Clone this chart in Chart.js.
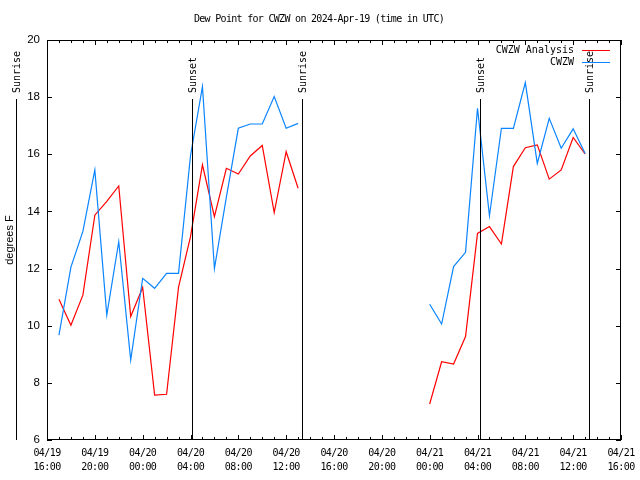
<!DOCTYPE html>
<html>
<head>
<meta charset="utf-8">
<script src="https://cdn.jsdelivr.net/npm/chart.js@4/dist/chart.umd.min.js"></script>
<style>
html,body{margin:0;padding:0;background:#fff;}
#wrap{width:640px;height:480px;}
</style>
</head>
<body>
<div id="wrap"><canvas id="c" width="640" height="480"></canvas></div>
<script>
// ---- data ----
const chartTitle = 'Dew Point for CWZW on 2024-Apr-19 (time in UTC)';
const yLabel = 'degrees F';
const axisStart = '2024-04-19T16:00:00Z';
const axisEnd = '2024-04-21T16:00:00Z';

const times = [
  '2024-04-19T17:00:00Z','2024-04-19T18:00:00Z','2024-04-19T19:00:00Z','2024-04-19T20:00:00Z',
  '2024-04-19T21:00:00Z','2024-04-19T22:00:00Z','2024-04-19T23:00:00Z','2024-04-20T00:00:00Z',
  '2024-04-20T01:00:00Z','2024-04-20T02:00:00Z','2024-04-20T03:00:00Z','2024-04-20T04:00:00Z',
  '2024-04-20T05:00:00Z','2024-04-20T06:00:00Z','2024-04-20T07:00:00Z','2024-04-20T08:00:00Z',
  '2024-04-20T09:00:00Z','2024-04-20T10:00:00Z','2024-04-20T11:00:00Z','2024-04-20T12:00:00Z',
  '2024-04-20T13:00:00Z','2024-04-20T14:00:00Z','2024-04-20T15:00:00Z','2024-04-20T16:00:00Z',
  '2024-04-20T17:00:00Z','2024-04-20T18:00:00Z','2024-04-20T19:00:00Z','2024-04-20T20:00:00Z',
  '2024-04-20T21:00:00Z','2024-04-20T22:00:00Z','2024-04-20T23:00:00Z','2024-04-21T00:00:00Z',
  '2024-04-21T01:00:00Z','2024-04-21T02:00:00Z','2024-04-21T03:00:00Z','2024-04-21T04:00:00Z',
  '2024-04-21T05:00:00Z','2024-04-21T06:00:00Z','2024-04-21T07:00:00Z','2024-04-21T08:00:00Z',
  '2024-04-21T09:00:00Z','2024-04-21T10:00:00Z','2024-04-21T11:00:00Z','2024-04-21T12:00:00Z',
  '2024-04-21T13:00:00Z'
];

const analysisValues = [
  10.93, 10.02, 11.07, 13.87, 14.35, 14.89, 10.32, 11.34, 7.57, 7.60, 11.35, 13.12,
  15.63, 13.82, 15.51, 15.31, 15.94, 16.31, 13.96, 16.09, 14.81,
  null, null, null, null, null, null, null, null, null, null,
  7.26, 8.74, 8.66, 9.62, 13.23, 13.47, 12.86, 15.57, 16.23, 16.33, 15.13, 15.45, 16.59, 16.01
];

const stationValues = [
  9.67, 12.05, 13.30, 15.45, 10.37, 12.94, 8.80, 11.66, 11.31, 11.83, 11.83, 15.95,
  18.37, 12.00, 14.50, 16.91, 17.06, 17.06, 18.02, 16.91, 17.08,
  null, null, null, null, null, null, null, null, null, null,
  10.75, 10.06, 12.07, 12.57, 17.61, 13.85, 16.91, 16.91, 18.51, 15.68, 17.26, 16.21, 16.89, 16.03
];

const sunEvents = [
  {t: '2024-04-19T13:23:00Z', label: 'Sunrise'},
  {t: '2024-04-20T04:09:00Z', label: 'Sunset'},
  {t: '2024-04-20T13:21:00Z', label: 'Sunrise'},
  {t: '2024-04-21T04:14:00Z', label: 'Sunset'},
  {t: '2024-04-21T13:21:00Z', label: 'Sunrise'}
];

const seriesNames = ['CWZW Analysis', 'CWZW'];
const seriesColors = ['#ff0000', '#0a84ff'];
const yTicks = [6, 8, 10, 12, 14, 16, 18, 20];

// ---- helpers ----
const t0 = Date.parse(axisStart);
const hoursOf = s => (Date.parse(s) - t0) / 3600000;
const xMax = hoursOf(axisEnd);
const pad2 = n => String(n).padStart(2, '0');
function tickLabel(h) {
  const d = new Date(t0 + h * 3600000);
  return [pad2(d.getUTCMonth() + 1) + '/' + pad2(d.getUTCDate()), pad2(d.getUTCHours()) + ':00'];
}
const toPoints = vals => times.map((t, i) => ({x: hoursOf(t), y: vals[i]}));

const MONO = '"DejaVu Sans Mono", "Liberation Mono", monospace';
const SANS = '"Liberation Sans", "DejaVu Sans", sans-serif';
const MONO_FONT = '10px ' + MONO;

const decor = {
  id: 'decor',
  afterDatasetsDraw(chart) {
    const ctx = chart.ctx;
    const a = chart.chartArea;
    const xs = chart.scales.x, ys = chart.scales.y;
    ctx.save();
    ctx.strokeStyle = '#000';
    ctx.lineWidth = 1;
    // frame
    ctx.strokeRect(Math.round(a.left) + 0.5, Math.round(a.top) + 0.5,
                   Math.round(a.right - a.left) - 1, Math.round(a.bottom - a.top) - 1);
    ctx.beginPath();
    for (let h = 0; h <= xMax; h++) {
      const px = Math.round(xs.getPixelForValue(h)) + 0.5;
      const len = h % 4 === 0 ? 5 : 3;
      ctx.moveTo(px, a.bottom); ctx.lineTo(px, a.bottom - len);
      ctx.moveTo(px, a.top); ctx.lineTo(px, a.top + len);
    }
    yTicks.forEach(v => {
      const py = Math.round(ys.getPixelForValue(v)) + 0.5;
      ctx.moveTo(a.left, py); ctx.lineTo(a.left + 5, py);
      ctx.moveTo(a.right, py); ctx.lineTo(a.right - 5, py);
    });
    ctx.stroke();

    ctx.fillStyle = '#000';
    ctx.font = MONO_FONT;

    // x tick labels (two lines)
    ctx.letterSpacing = '-0.6px';
    ctx.textAlign = 'center';
    ctx.textBaseline = 'middle';
    for (let h = 0; h <= xMax; h += 4) {
      const px = xs.getPixelForValue(h);
      const lab = tickLabel(h);
      ctx.fillText(lab[0], px, a.bottom + 13);
      ctx.fillText(lab[1], px, a.bottom + 27);
    }

    // title
    ctx.letterSpacing = '-0.7px';
    ctx.fillText(chartTitle, 319, 19);

    // sun events
    ctx.letterSpacing = '0px';
    sunEvents.forEach(ev => {
      const px = Math.round(xs.getPixelForValue(hoursOf(ev.t))) + 0.5;
      ctx.beginPath();
      ctx.moveTo(px, a.bottom);
      ctx.lineTo(px, 99);
      ctx.stroke();
      ctx.save();
      ctx.translate(px + 1, 93);
      ctx.rotate(-Math.PI / 2);
      ctx.textAlign = 'left';
      ctx.textBaseline = 'middle';
      ctx.fillText(ev.label, 0, 0);
      ctx.restore();
    });

    // legend
    ctx.textAlign = 'right';
    ctx.textBaseline = 'middle';
    seriesNames.forEach((n, i) => {
      const y = 50 + i * 12;
      ctx.fillStyle = '#000';
      ctx.fillText(n, 574, y);
      ctx.strokeStyle = seriesColors[i];
      ctx.beginPath();
      ctx.moveTo(582, y + 0.5);
      ctx.lineTo(610, y + 0.5);
      ctx.stroke();
    });

    // y label
    ctx.save();
    ctx.font = '11px ' + SANS;
    ctx.translate(10, 240);
    ctx.rotate(-Math.PI / 2);
    ctx.textAlign = 'center';
    ctx.textBaseline = 'middle';
    ctx.fillStyle = '#000';
    ctx.fillText(yLabel, 0, 0);
    ctx.restore();
    ctx.restore();
  }
};

new Chart(document.getElementById('c'), {
  type: 'line',
  data: {
    datasets: [
      {label: seriesNames[1], data: toPoints(stationValues), borderColor: seriesColors[1],
       borderWidth: 1.2, pointRadius: 0, tension: 0, spanGaps: false, fill: false},
      {label: seriesNames[0], data: toPoints(analysisValues), borderColor: seriesColors[0],
       borderWidth: 1.2, pointRadius: 0, tension: 0, spanGaps: false, fill: false}
    ]
  },
  options: {
    responsive: false,
    animation: false,
    devicePixelRatio: 1,
    layout: {padding: {top: 40, right: 19, left: 0, bottom: 0}},
    plugins: {legend: {display: false}, title: {display: false}, tooltip: {enabled: false}},
    scales: {
      x: {
        type: 'linear', min: 0, max: xMax,
        grid: {display: false, drawTicks: false},
        border: {display: false},
        afterFit(s) { s.height = 40; },
        ticks: {display: false, stepSize: 1}
      },
      y: {
        type: 'linear', min: 6, max: 20,
        grid: {display: false, drawTicks: false},
        border: {display: false},
        afterFit(s) { s.width = 47; },
        ticks: {stepSize: 2, padding: 7, color: '#000', font: {family: SANS, size: 11.5}}
      }
    }
  },
  plugins: [decor]
});
</script>
</body>
</html>
